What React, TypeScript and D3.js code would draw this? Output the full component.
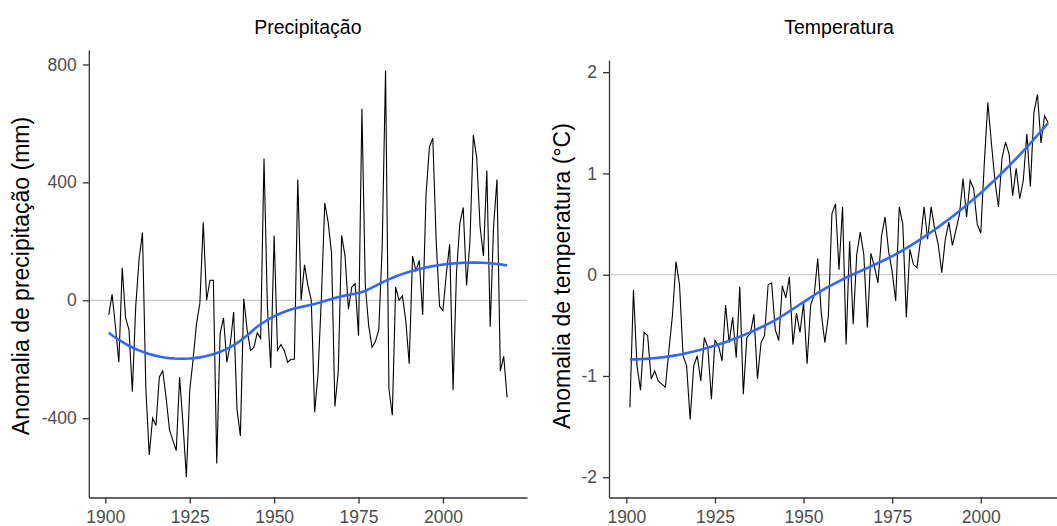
import { useEffect, useRef } from 'react';
import * as d3 from 'd3';

// annual anomalies, 1901-2019
const firstYear = 1901;

const precipitation = [
  -50, 20, -90, -210, 110, -60, -100, -310, -20, 140,
  230, -300, -525, -400, -425, -260, -240, -330, -440, -475,
  -510, -260, -420, -600, -305, -200, -80, -10, 265, 0,
  68, 68, -554, -113, -60, -210, -150, -40, -370, -460,
  5, -100, -170, -160, -110, -130, 480, -20, -230, 220,
  -170, -150, -170, -210, -200, -200, 410, 0, 120, 50,
  0, -380, -250, 10, 330, 265, 160, -360, -240, 220,
  150, -30, 45, 56, -120, 650, 50, -85, -160, -140,
  -100, 180, 780, -300, -390, 45, 0, 15, -70, -215,
  150, 100, 135, -50, 360, 520, 550, 200, -20, -35,
  90, 190, -305, 90, 260, 315, 50, 200, 560, 485,
  250, 150, 440, -90, 250, 410, -240, -190, -330,
];

const temperature = [
  -1.31, -0.15, -0.9, -1.14, -0.57, -0.6, -1.03, -0.95, -1.05, -1.08,
  -1.11, -0.75, -0.4, 0.13, -0.1, -0.8, -0.9, -1.43, -0.9, -0.8,
  -1.05, -0.62, -0.72, -1.23, -0.65, -0.7, -0.85, -0.3, -0.67, -0.42,
  -0.82, -0.12, -1.18, -0.62, -0.58, -0.39, -1.03, -0.67, -0.6, -0.1,
  -0.08, -0.54, -0.65, -0.11, -0.23, -0.02, -0.69, -0.38, -0.57, -0.28,
  -0.88, -0.3, -0.2, 0.16, -0.38, -0.67, -0.41, 0.6, 0.7, 0.05,
  0.67, -0.69, 0.33, -0.49, 0.2, 0.42, 0.2, -0.52, 0.21, 0.08,
  -0.08, 0.38, 0.57, 0.23, 0.03, -0.26, 0.67, 0.5, -0.42, 0.25,
  0.1, 0.07, 0.34, 0.67, 0.35, 0.67, 0.45, 0.3, 0.02, 0.35,
  0.52, 0.29, 0.44, 0.6, 0.95, 0.57, 0.93, 0.85, 0.5, 0.41,
  1.1, 1.7, 1.3, 0.93, 0.67, 1.15, 1.31, 1.19, 0.78, 1.05,
  0.75, 0.93, 1.39, 0.87, 1.6, 1.78, 1.3, 1.57, 1.5,
];

const yearTicks = [1900, 1925, 1950, 1975, 2000];
const precipTicks = [-400, 0, 400, 800];
const tempTicks = [-2, -1, 0, 1, 2];

const FONT = '"Liberation Sans", Arial, sans-serif';

// local quadratic regression with tricube weights (like geom_smooth's loess)
const loess = (xs: number[], ys: number[], span = 0.75, points = 80) => {
  const n = xs.length;
  const q = Math.floor(n * span);
  const x0s = d3.range(points).map(i => xs[0] + (xs[n - 1] - xs[0]) * i / (points - 1));
  const det3 = (a: number, b: number, c: number, d: number, e: number, f: number, g: number, h: number, k: number) =>
    a * (e * k - f * h) - b * (d * k - f * g) + c * (d * h - e * g);
  return x0s.map(x0 => {
    const dist = xs.map(x => Math.abs(x - x0));
    const maxD = [...dist].sort((a, b) => a - b)[q - 1] * 1.0001;
    let s0 = 0, s1 = 0, s2 = 0, s3 = 0, s4 = 0, t0 = 0, t1 = 0, t2 = 0;
    xs.forEach((x, i) => {
      const u = dist[i] / maxD;
      if (u >= 1) return;
      const w = Math.pow(1 - u * u * u, 3);
      const dx = x - x0;
      s0 += w; s1 += w * dx; s2 += w * dx * dx; s3 += w * dx ** 3; s4 += w * dx ** 4;
      t0 += w * ys[i]; t1 += w * dx * ys[i]; t2 += w * dx * dx * ys[i];
    });
    const D = det3(s0, s1, s2, s1, s2, s3, s2, s3, s4);
    const Da = det3(t0, s1, s2, t1, s2, s3, t2, s3, s4);
    return [x0, Da / D] as [number, number];
  });
};

const drawPanel = (svg, opts) => {
  const { values, x0, x1, top, bottom, yDomain, yTicks, title, yTitle, yTitleX } = opts;
  const years = values.map((_, i) => firstYear + i);

  const x = d3.scaleLinear().domain([1895.1, 2024.9]).range([x0, x1]);
  const y = d3.scaleLinear().domain(yDomain).range([bottom, top]);

  const g = svg.append('g');

  // zero reference line
  g.append('line')
    .attr('x1', x0).attr('x2', x1)
    .attr('y1', y(0)).attr('y2', y(0))
    .attr('stroke', '#BEBEBE')
    .attr('stroke-width', 1.1);

  const line = d3.line<number>()
    .x((_, i) => x(years[i]))
    .y(d => y(d));

  g.append('path')
    .datum(values)
    .attr('d', line)
    .attr('fill', 'none')
    .attr('stroke', '#000')
    .attr('stroke-width', 1.1);

  const smooth = loess(years, values);
  g.append('path')
    .datum(smooth)
    .attr('d', d3.line().x(d => x(d[0])).y(d => y(d[1])))
    .attr('fill', 'none')
    .attr('stroke', '#3366FF')
    .attr('stroke-width', 2.6);

  // axes
  const xAxis = g.append('g')
    .attr('transform', `translate(0,${bottom})`)
    .call(d3.axisBottom(x).tickValues(yearTicks).tickFormat(d3.format('d')).tickSize(6).tickPadding(7).tickSizeOuter(0));
  const yAxis = g.append('g')
    .attr('transform', `translate(${x0},0)`)
    .call(d3.axisLeft(y).tickValues(yTicks).tickFormat(d3.format('d')).tickSize(6).tickPadding(6).tickSizeOuter(0));

  [xAxis, yAxis].forEach(a => {
    a.select('.domain').attr('stroke', '#333').attr('stroke-width', 1.3);
    a.selectAll('.tick line').attr('stroke', '#333').attr('stroke-width', 1.3);
    a.selectAll('.tick text')
      .attr('fill', '#4D4D4D')
      .style('font-family', FONT)
      .style('font-size', '17.5px');
  });
  yAxis.selectAll('.tick text').text(d => (d < 0 ? '-' + Math.abs(d) : d));

  svg.append('text')
    .attr('x', (x0 + x1) / 2)
    .attr('y', 34)
    .attr('text-anchor', 'middle')
    .style('font-family', FONT)
    .style('font-size', '19.5px')
    .attr('fill', '#000')
    .text(title);

  svg.append('text')
    .attr('transform', `translate(${yTitleX},276) rotate(-90)`)
    .attr('text-anchor', 'middle')
    .attr('dy', '0.35em')
    .style('font-family', FONT)
    .style('font-size', '23px')
    .attr('fill', '#000')
    .text(yTitle);
};

const App = () => {
  const ref = useRef<SVGSVGElement>(null);

  useEffect(() => {
    const svg = d3.select(ref.current);
    svg.selectAll('*').remove();

    drawPanel(svg, {
      values: precipitation,
      x0: 88.8, x1: 527,
      top: 50, bottom: 497.5,
      yDomain: [-669, 849],
      yTicks: precipTicks,
      title: 'Precipitação',
      yTitle: 'Anomalia de precipitação (mm)',
      yTitleX: 21,
    });

    drawPanel(svg, {
      values: temperature,
      x0: 609, x1: 1069,
      top: 60, bottom: 497.5,
      yDomain: [-2.2, 2.12],
      yTicks: tempTicks,
      title: 'Temperatura',
      yTitle: 'Anomalia de temperatura (°C)',
      yTitleX: 562,
    });
  }, []);

  return (
    <svg
      ref={ref}
      width={1057}
      height={526}
      style={{ position: 'absolute', left: 0, top: 0, background: '#fff' }}
    />
  );
};

export default App;
